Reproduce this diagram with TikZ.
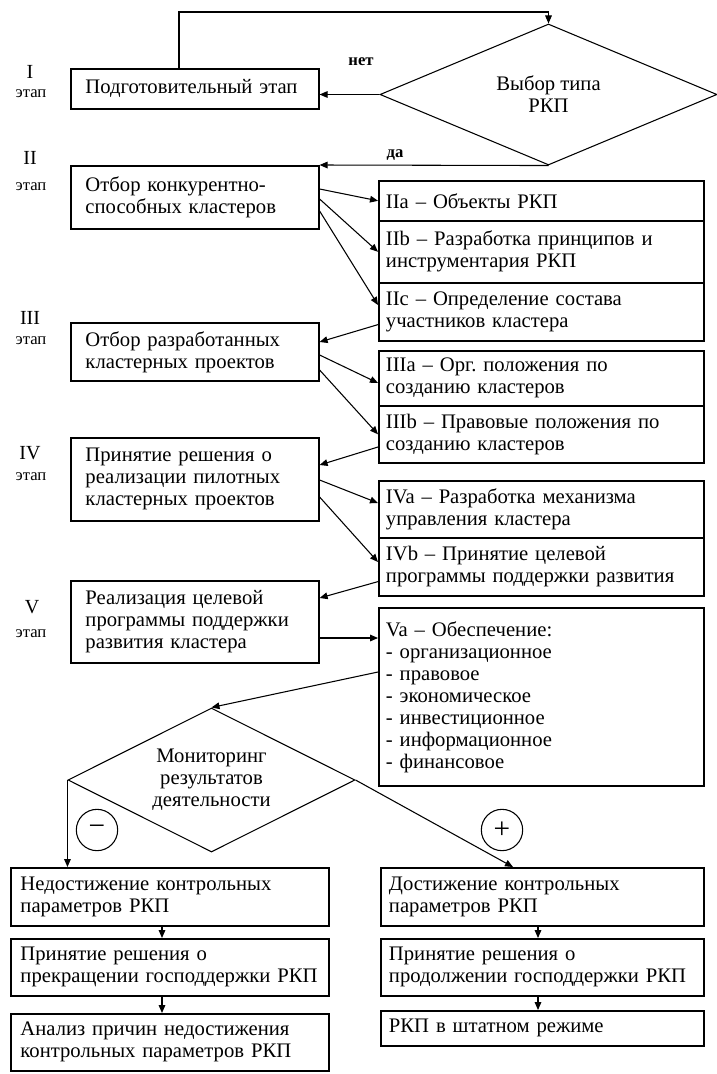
\documentclass[tikz,border=0pt]{standalone}
\usepackage{fontspec}
\setmainfont{Liberation Serif}
\usetikzlibrary{shapes.geometric,arrows.meta,calc}

\tikzset{every picture/.style={line width=0.75pt}}
\tikzset{
  blk/.style={draw, line width=1.2pt, rectangle, anchor=north west, align=left, inner ysep=0pt, font=\fontsize{15.5}{16.5}\selectfont},
  lblk/.style={blk, inner xsep=11pt, minimum width=186pt, text width=164pt},
  rblk/.style={blk, inner xsep=5pt, minimum width=243.75pt, text width=233pt},
  dlblk/.style={blk, inner xsep=7pt, minimum width=238.5pt, text width=224pt},
  drblk/.style={blk, inner xsep=6pt, minimum width=242.25pt, text width=230pt},
  dia/.style={draw, diamond, line width=0.8pt, inner sep=0pt, align=center, font=\fontsize{15.5}{16.5}\selectfont},
  arr/.style={line width=0.8pt, -{Triangle[length=6pt,width=5pt]}},
  stg/.style={inner sep=0pt, font=\fontsize{15}{16}\selectfont},
  etp/.style={inner sep=0pt, font=\fontsize{12.5}{13}\selectfont},
  sgn/.style={draw, circle, line width=0.8pt, minimum size=31pt, inner sep=0pt, font=\fontsize{22}{22}\selectfont},
  yn/.style={inner sep=0pt, font=\bfseries\fontsize{12.5}{13}\selectfont}
}

\begin{document}
\begin{tikzpicture}[x=0.75pt,y=0.75pt,yscale=-1,xscale=1]
\useasboundingbox (0,0) rectangle (717,1074);

% Stage labels
\node [stg] (s1) at (30,72) {I};
\node [etp] (e1) at (31,94) {этап};
\node [stg] (s2) at (30,158) {II};
\node [etp] (e2) at (31,187) {этап};
\node [stg] (s3) at (30,318) {III};
\node [etp] (e3) at (31,341) {этап};
\node [stg] (s4) at (30,453) {IV};
\node [etp] (e4) at (31,477) {этап};
\node [stg] (s5) at (32,607) {V};
\node [etp] (e5) at (31,634) {этап};

%Shape: Rectangle [left column]
\node [lblk, minimum height=30pt] (b1) at (70,68) {Подготовительный этап};
\node [lblk, minimum height=47.25pt] (b2) at (70,165) {Отбор конкурентно-\\способных кластеров};
\node [lblk, minimum height=43.5pt] (b3) at (70,322) {Отбор разработанных\\кластерных проектов};
\node [lblk, minimum height=62.25pt] (b4) at (70,437) {Принятие решения о\\реализации пилотных\\кластерных проектов};
\node [lblk, minimum height=61.5pt] (b5) at (70,580) {Реализация целевой\\программы поддержки\\развития кластера};

%Shape: Rectangle [right column]
\node [rblk, minimum height=30pt] (IIa) at (378,180) {IIa – Объекты РКП};
\node [rblk, minimum height=46.5pt] (IIb) at (378,220) {IIb – Разработка принципов и\\инструментария РКП};
\node [rblk, minimum height=43.5pt] (IIc) at (378,282) {IIc – Определение состава\\участников кластера};
\node [rblk, minimum height=41.25pt] (IIIa) at (378,350) {IIIa – Орг.\ положения по\\созданию кластеров};
\node [rblk, minimum height=42.75pt] (IIIb) at (378,405) {IIIb – Правовые положения по\\созданию кластеров};
\node [rblk, minimum height=42.75pt] (IVa) at (378,480) {IVa – Разработка механизма\\управления кластера};
\node [rblk, minimum height=43.5pt] (IVb) at (378,537) {IVb – Принятие целевой\\программы поддержки развития};
\node [rblk, minimum height=133.5pt] (Va) at (378,607) {Va – Обеспечение:\\- организационное\\- правовое\\- экономическое\\- инвестиционное\\- информационное\\- финансовое};

%Shape: Diamond
\node [dia, aspect=2.4, minimum width=252.75pt, minimum height=105.75pt] (d1) at (548.5,94.5) {Выбор типа\\РКП};
\node [dia, aspect=2, minimum width=215.25pt, minimum height=108pt] (d2) at (211.5,780) {Мониторинг\\результатов\\деятельности};

%Shape: Rectangle [bottom]
\node [dlblk, minimum height=43.5pt] (L1) at (10,867) {Недостижение контрольных\\параметров РКП};
\node [dlblk, minimum height=42.75pt] (L2) at (10,938) {Принятие решения о\\прекращении господдержки РКП};
\node [dlblk, minimum height=42.75pt] (L3) at (10,1013) {Анализ причин недостижения\\контрольных параметров РКП};
\node [drblk, minimum height=43.5pt] (R1) at (380,867) {Достижение контрольных\\параметров РКП};
\node [drblk, minimum height=42.75pt] (R2) at (380,938) {Принятие решения о\\продолжении господдержки РКП};
\node [drblk, minimum height=26.25pt] (R3) at (380,1010) {РКП в штатном режиме};

% Text Node
\node [yn] (no) at (361,62) {нет};
\node [yn] (yes) at (395,155) {да};
\node [sgn] (minus) at (97,830) {−};
\node [sgn] (plus) at (502,830) {+};

%Straight Lines
\coordinate (loop) at (179,12);
\draw [arr] (b1.north -| loop) -- (loop) -| (d1.north);
\draw [arr] (d1.west) -- (d1.west -| b1.east);
\draw [arr] (d1.south) -- (b2.north east);
\draw [arr] ($(b2.north east)+(0,24)$) -- (IIa.west);
\draw [arr] ($(b2.north east)+(0,34)$) -- (IIb.west);
\draw [arr] ($(b2.north east)+(0,46)$) -- ($(IIc.north west)+(0,23)$);
\draw [arr] ($(IIc.south west)+(0,-17)$) -- ($(b3.north east)+(0,20)$);
\draw [arr] ($(b3.north east)+(0,33)$) -- ($(IIIa.north west)+(0,33)$);
\draw [arr] ($(b3.north east)+(0,48)$) -- (IIIb.west);
\draw [arr] ($(IIIb.north west)+(0,42)$) -- ($(b4.north east)+(0,28)$);
\draw [arr] ($(b4.north east)+(0,43)$) -- ($(IVa.north west)+(0,23)$);
\draw [arr] ($(b4.north east)+(0,60)$) -- ($(IVb.north west)+(0,25)$);
\draw [arr] ($(IVb.south west)+(0,-15)$) -- ($(b5.north east)+(0,18)$);
\draw [arr] ($(b5.north east)+(0,58)$) -- ($(Va.north west)+(0,31)$);
\draw [arr] ($(Va.north west)+(0,65)$) -- (d2.north);
\draw [arr] (d2.west) -- (d2.west |- L1.north);
\draw [arr] (d2.east) -- ($(R1.north west)+(133,0)$);
\draw [arr] ($(L1.south west)+(152,0)$) -- ($(L2.north west)+(152,0)$);
\draw [arr] ($(L2.south west)+(152,0)$) -- ($(L3.north west)+(152,0)$);
\draw [arr] ($(R1.south west)+(158,0)$) -- ($(R2.north west)+(158,0)$);
\draw [arr] ($(R2.south west)+(158,0)$) -- ($(R3.north west)+(158,0)$);

\end{tikzpicture}
\end{document}
